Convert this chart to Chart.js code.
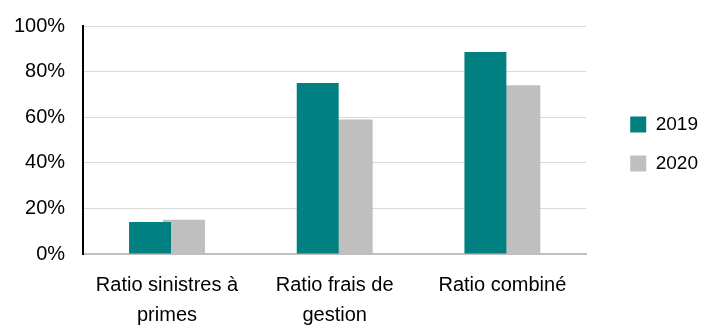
<!DOCTYPE html>
<html>
<head>
<meta charset="utf-8">
<script src="https://cdn.jsdelivr.net/npm/chart.js@4.4.0/dist/chart.umd.min.js"></script>
<style>
  html, body { margin: 0; padding: 0; background: #fff; }
  #wrap { width: 704px; height: 327px; }
</style>
</head>
<body>
<div id="wrap"><canvas id="myChart" width="704" height="327"></canvas></div>
<script>
const categories = [['Ratio sinistres à', 'primes'], ['Ratio frais de', 'gestion'], 'Ratio combiné'];
const years = ['2019', '2020'];
const values2019 = [14, 75, 88.6];
const values2020 = [15, 59, 74];
const yTicks = [0, 20, 40, 60, 80, 100];

Chart.defaults.font.family = "'Liberation Sans', Arial, sans-serif";
Chart.defaults.font.size = 20;
Chart.defaults.color = '#000';

// put the legend a bit away from the plot and centred on it, like the original
const legendShift = {
    id: 'legendShift',
    afterLayout(chart) {
        const lg = chart.legend;
        lg.left += 24;
        lg.right += 24;
        lg.top = chart.chartArea.top + 4;
        lg.bottom = chart.chartArea.bottom + 4;
    }
};

var ctx = document.getElementById('myChart').getContext('2d');
var myChart = new Chart(ctx, {
    type: 'bar',
    data: {
        labels: categories,
        datasets: [{
            label: years[0],
            data: values2019,
            backgroundColor: '#008080',
            categoryPercentage: 0.405,
            barPercentage: 1.235
        }, {
            label: years[1],
            data: values2020,
            backgroundColor: '#bfbfbf',
            categoryPercentage: 0.405,
            barPercentage: 1.235
        }]
    },
    options: {
        responsive: false,
        animation: false,
        layout: { padding: { left: -4, right: 20, top: 6, bottom: -19 } },
        plugins: {
            tooltip: { enabled: false },
            legend: {
                position: 'right',
                labels: { boxWidth: 16, boxHeight: 16, padding: 20, font: { size: 19 } }
            }
        },
        scales: {
            x: {
                grid: { display: false, drawTicks: false },
                border: { color: '#bfbfbf', width: 2 },
                ticks: { padding: 16, maxRotation: 0, font: { size: 20, lineHeight: 1.5 } }
            },
            y: {
                min: 0,
                max: 100,
                afterBuildTicks: (axis) => { axis.ticks = yTicks.map(v => ({ value: v })); },
                grid: { color: '#d9d9d9', lineWidth: 1, drawTicks: false },
                border: { color: '#000', width: 2 },
                ticks: { padding: 18, callback: (v) => v + '%', font: { size: 20, lineHeight: 0.8 } }
            }
        }
    },
    plugins: [legendShift]
});
</script>
</body>
</html>
